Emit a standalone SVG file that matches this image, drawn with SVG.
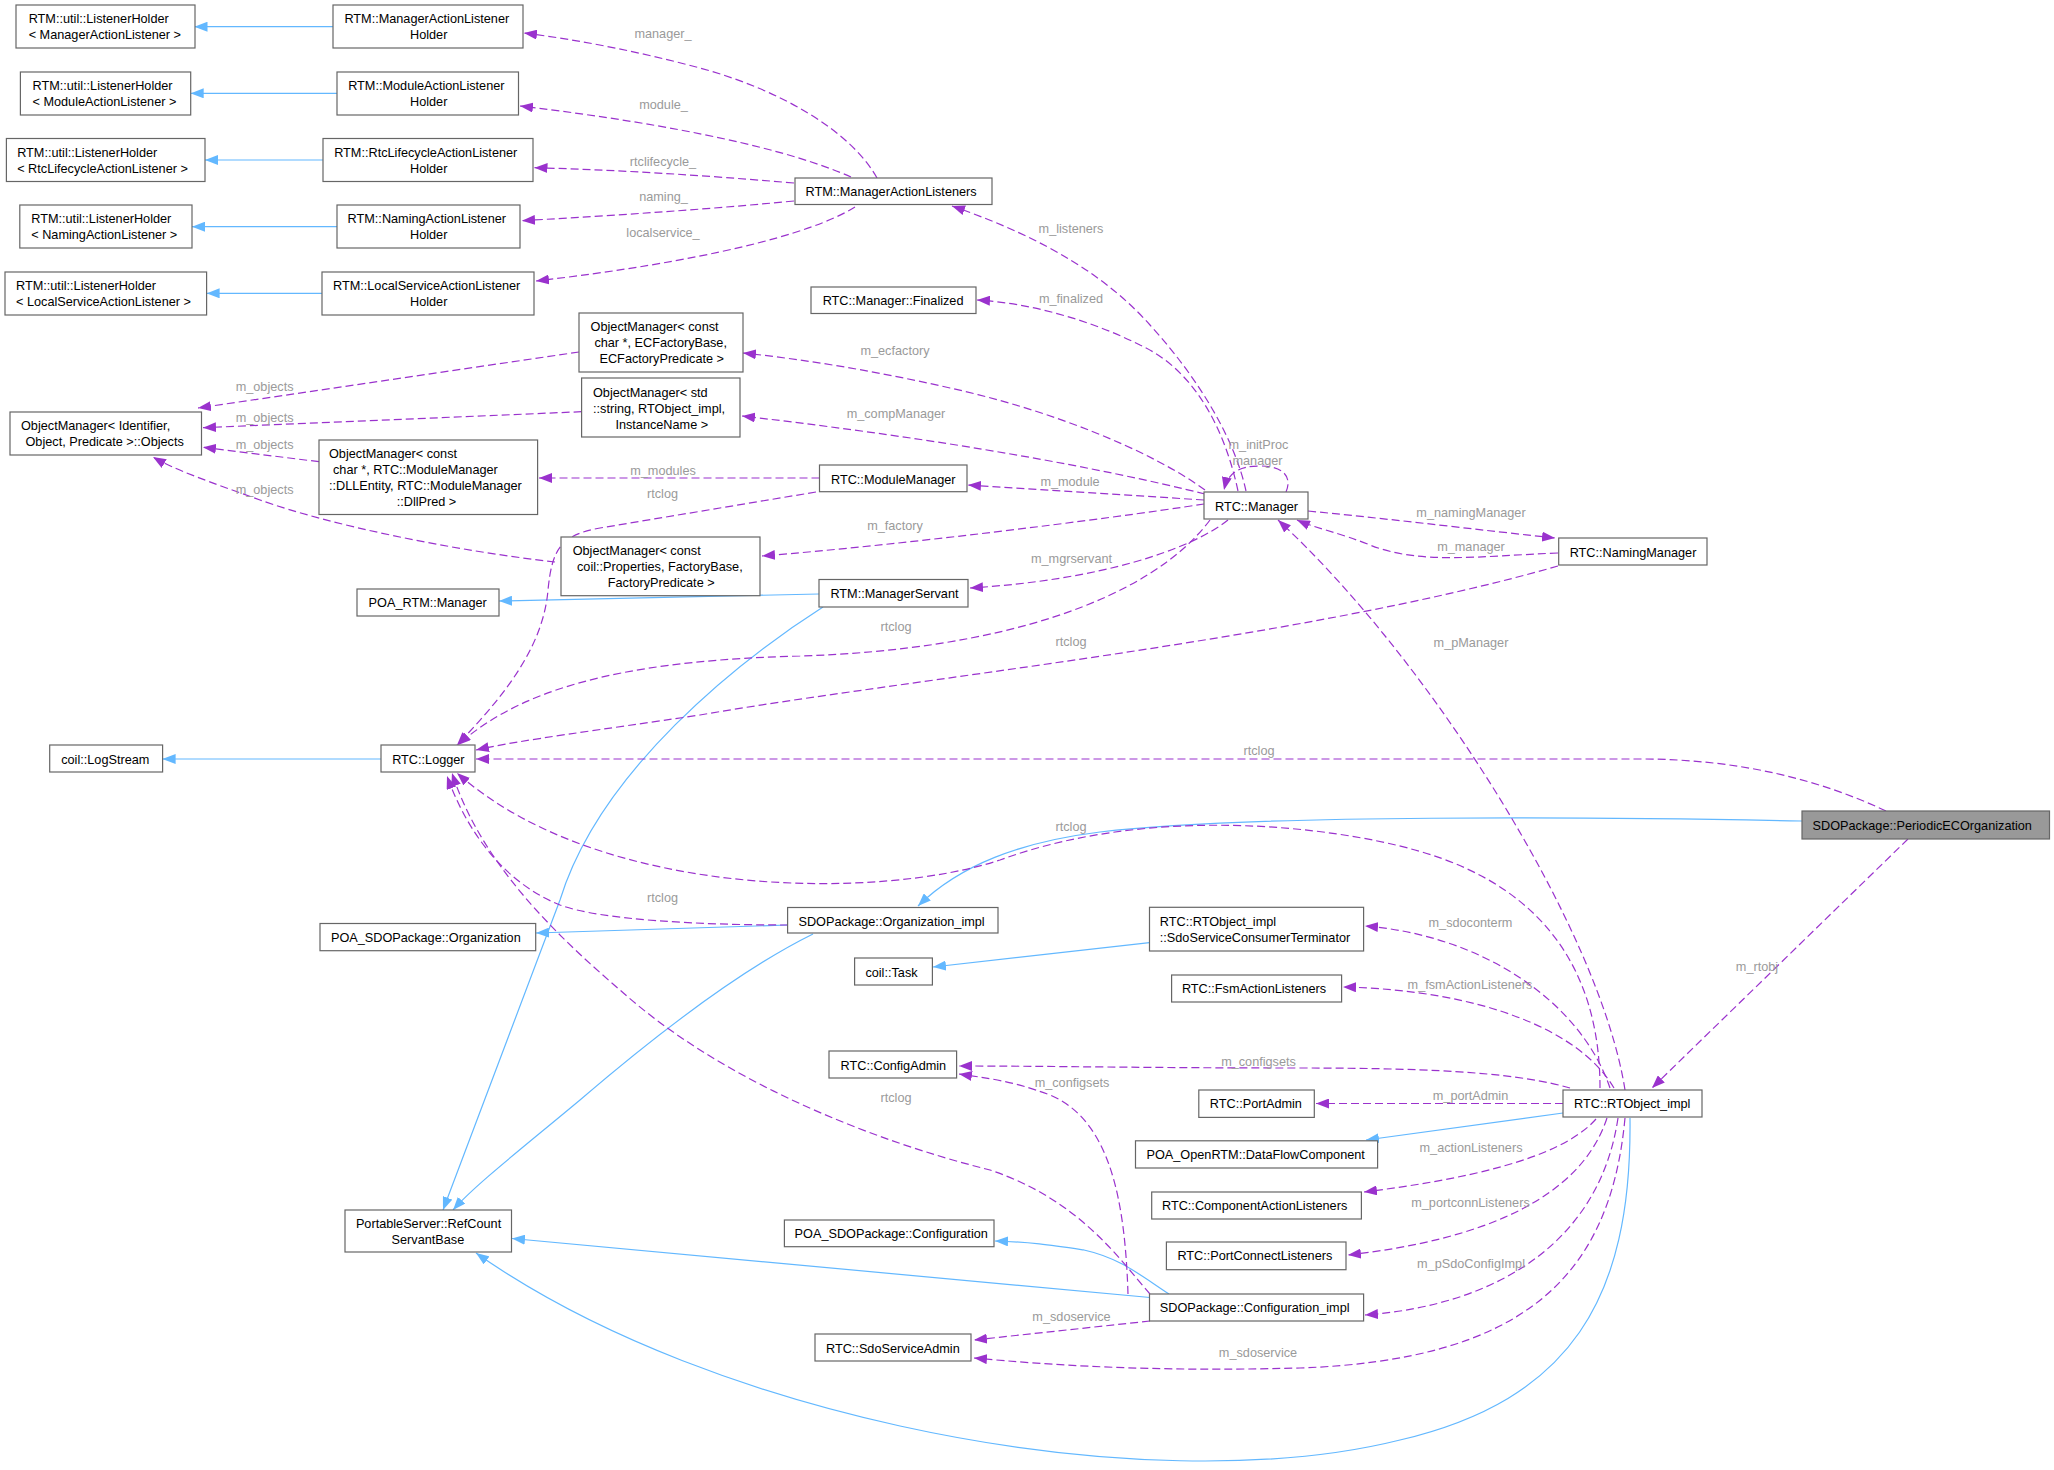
<svg xmlns="http://www.w3.org/2000/svg" width="2054" height="1470" viewBox="0 0 2054 1470">
<style>
.n rect{fill:#fff;stroke:#666;stroke-width:1.2}
.g rect{fill:#999;stroke:#666;stroke-width:1.2}
text{font-family:"Liberation Sans",Arial,Helvetica,sans-serif;font-size:12.7px}
.n text,.g text{fill:#000}
.lb text{fill:#9A9A9A;text-anchor:middle}
.u{fill:none;stroke:#9A32CD;stroke-width:1.2;stroke-dasharray:8,4;marker-end:url(#ap)}
.i{fill:none;stroke:#63B8FF;stroke-width:1.2;marker-end:url(#ab)}
</style>
<defs>
<marker id="ap" viewBox="0 0 13 10" refX="13" refY="5" markerWidth="13" markerHeight="10" markerUnits="userSpaceOnUse" orient="auto"><path d="M0,0 L13,5 L0,10 z" fill="#9A32CD"/></marker>
<marker id="ab" viewBox="0 0 13 10" refX="13" refY="5" markerWidth="13" markerHeight="10" markerUnits="userSpaceOnUse" orient="auto"><path d="M0,0 L13,5 L0,10 z" fill="#63B8FF"/></marker>
</defs>
<rect width="2054" height="1470" fill="#fff"/>
<g id="edges">
<path class="i" d="M333,26.7 L194.5,26.7"/>
<path class="i" d="M337,93.3 L190.7,93.3"/>
<path class="i" d="M323,160 L205,160"/>
<path class="i" d="M337,226.7 L192,226.7"/>
<path class="i" d="M322,293.3 L206.6,293.3"/>
<path class="i" d="M381,759 L162.6,759"/>
<path class="i" d="M819,594 L499,601"/>
<path class="i" d="M823,607 C740,660 600,770 560,900 L443,1210"/>
<path class="i" d="M1802,821 C1600,817 1250,814 1100,832 C1020,842 960,865 918,906"/>
<path class="i" d="M788,925 L536,933"/>
<path class="i" d="M813,934 C740,970 650,1040 580,1100 C520,1150 475,1185 453,1210"/>
<path class="i" d="M1149.5,942.7 L933,967"/>
<path class="i" d="M1563,1113 L1366,1140"/>
<path class="i" d="M1169,1294 C1140,1275 1120,1258 1084,1250 C1050,1245 1030,1242 995,1241"/>
<path class="i" d="M1150,1297.5 L512,1238.5"/>
<path class="i" d="M1630,1118 C1632,1300 1570,1400 1400,1440 C1280,1470 1100,1470 900,1426 C760,1395 600,1340 476,1253"/>
<path class="u" d="M877,178 C850,130 780,90 700,68 C640,52 580,40 524,33"/>
<path class="u" d="M851,177 C790,150 680,125 520,106"/>
<path class="u" d="M794,183 C700,175 620,170 534.5,167.7"/>
<path class="u" d="M794,201 C700,210 620,215 522,220.7"/>
<path class="u" d="M855,207 C810,235 700,262 536,281"/>
<path class="u" d="M1246,491 C1235,440 1200,380 1150,325 C1110,280 1050,240 952,206"/>
<path class="u" d="M1238,491 C1225,430 1195,370 1140,345 C1090,320 1030,303 977,300"/>
<path class="u" d="M1286,492 C1292,478 1285,466 1260,466 C1240,466 1228,472 1224,490"/>
<path class="u" d="M1205,490 C1150,450 1050,410 950,388 C880,372 810,360 743,353"/>
<path class="u" d="M1205,494 C1100,468 950,440 742,416"/>
<path class="u" d="M1204,500 L968,485"/>
<path class="u" d="M819.5,478 L539,478"/>
<path class="u" d="M816,492 L600,528 C560,535 552,550 548,590 C543,650 500,700 457,745"/>
<path class="u" d="M1204,504 C1100,520 900,545 762,556"/>
<path class="u" d="M1228,520 C1190,550 1100,580 970,588"/>
<path class="u" d="M1210,520 C1150,600 1000,650 800,656 C650,660 530,680 458,745"/>
<path class="u" d="M1558,566 C1300,640 900,680 700,715 C600,730 520,740 476,750"/>
<path class="u" d="M1886,811 C1820,780 1740,759 1640,759 L476,759"/>
<path class="u" d="M1625,1090 C1600,930 1430,660 1278,520"/>
<path class="u" d="M1558,553 C1480,556 1420,565 1370,545 C1340,533 1315,528 1297,520"/>
<path class="u" d="M1308,511 C1400,520 1480,530 1555,538"/>
<path class="u" d="M1908,839 L1652,1088"/>
<path class="u" d="M1610,1088 C1580,1000 1480,935 1365,926"/>
<path class="u" d="M1614,1088 C1580,1030 1480,990 1343,987"/>
<path class="u" d="M1570,1088 C1520,1074 1450,1068 1300,1068 C1150,1068 1050,1066 959,1066"/>
<path class="u" d="M1128,1294 C1125,1200 1110,1120 1050,1095 C1010,1080 985,1078 959,1074"/>
<path class="u" d="M1563,1103.5 L1316,1103.5"/>
<path class="u" d="M1596,1119 C1560,1160 1460,1180 1364,1192"/>
<path class="u" d="M1607,1118 C1580,1200 1480,1240 1348,1255"/>
<path class="u" d="M1618,1118 C1600,1240 1500,1305 1365,1315"/>
<path class="u" d="M1625,1118 C1610,1280 1520,1360 1300,1368 C1150,1372 1050,1365 974,1358"/>
<path class="u" d="M1150,1321 L974,1340"/>
<path class="u" d="M1600,1088 C1600,990 1560,890 1415,850 C1330,826 1150,805 1000,860 C880,900 600,900 457,773"/>
<path class="u" d="M788,925 C700,925 600,920 560,905 C510,885 470,840 447,776"/>
<path class="u" d="M1150,1294 C1120,1260 1080,1200 990,1170 C870,1140 720,1080 620,990 C550,930 480,860 452,773"/>
<path class="u" d="M579,352 L198,408"/>
<path class="u" d="M581.6,411.7 L203,427.7"/>
<path class="u" d="M319,461.7 L203,447.3"/>
<path class="u" d="M555,562 C450,550 330,525 260,500 C210,482 175,470 153,457"/>
</g>
<g id="labels" class="lb">
<text x="663" y="37.5">manager_</text>
<text x="663.5" y="109">module_</text>
<text x="663" y="166">rtclifecycle_</text>
<text x="663.5" y="201">naming_</text>
<text x="663" y="237">localservice_</text>
<text x="1071" y="233">m_listeners</text>
<text x="1071" y="303">m_finalized</text>
<text x="895" y="355">m_ecfactory</text>
<text x="896" y="418">m_compManager</text>
<text x="264.6" y="391">m_objects</text>
<text x="264.6" y="422">m_objects</text>
<text x="264.6" y="449">m_objects</text>
<text x="264.6" y="494">m_objects</text>
<text x="663" y="475">m_modules</text>
<text x="662.5" y="498">rtclog</text>
<text x="1070" y="486">m_module</text>
<text x="1258.5" y="449">m_initProc</text>
<text x="1257.5" y="465">manager</text>
<text x="895" y="530">m_factory</text>
<text x="1071.5" y="563">m_mgrservant</text>
<text x="1471" y="517">m_namingManager</text>
<text x="1471" y="551">m_manager</text>
<text x="896" y="631">rtclog</text>
<text x="1071" y="646">rtclog</text>
<text x="1471" y="647">m_pManager</text>
<text x="1259" y="755">rtclog</text>
<text x="1071" y="831">rtclog</text>
<text x="662.5" y="902">rtclog</text>
<text x="1470.5" y="927">m_sdoconterm</text>
<text x="1757" y="970.5">m_rtobj</text>
<text x="1470" y="989">m_fsmActionListeners</text>
<text x="1258.5" y="1065.5">m_configsets</text>
<text x="1072" y="1087">m_configsets</text>
<text x="1470.5" y="1100">m_portAdmin</text>
<text x="896" y="1102">rtclog</text>
<text x="1471" y="1152">m_actionListeners</text>
<text x="1470.5" y="1207">m_portconnListeners</text>
<text x="1471" y="1268">m_pSdoConfigImpl</text>
<text x="1071.5" y="1321">m_sdoservice</text>
<text x="1258" y="1357">m_sdoservice</text>
</g>
<g id="n_lh_mgr" class="n"><rect x="16" y="5" width="179" height="43"/><text x="28.7" y="22.8">RTM::util::ListenerHolder</text><text x="28.7" y="38.8">&lt; ManagerActionListener &gt;</text></g>
<g id="n_malh" class="n"><rect x="333" y="5" width="190" height="43"/><text x="344.4" y="22.8">RTM::ManagerActionListener</text><text x="410" y="38.8">Holder</text></g>
<g id="n_lh_mod" class="n"><rect x="20.4" y="72" width="170.3" height="43"/><text x="32.5" y="89.8">RTM::util::ListenerHolder</text><text x="32.5" y="105.8">&lt; ModuleActionListener &gt;</text></g>
<g id="n_moalh" class="n"><rect x="337" y="72" width="181.5" height="43"/><text x="348.2" y="89.8">RTM::ModuleActionListener</text><text x="410" y="105.8">Holder</text></g>
<g id="n_lh_rtc" class="n"><rect x="6.4" y="138.5" width="198.6" height="43"/><text x="17.2" y="157.2">RTM::util::ListenerHolder</text><text x="17.2" y="173.2">&lt; RtcLifecycleActionListener &gt;</text></g>
<g id="n_rtclh" class="n"><rect x="323" y="138.5" width="210" height="43"/><text x="334.2" y="157.2">RTM::RtcLifecycleActionListener</text><text x="410" y="173.2">Holder</text></g>
<g id="n_lh_nam" class="n"><rect x="19.8" y="205" width="172.2" height="43"/><text x="31.25" y="223">RTM::util::ListenerHolder</text><text x="31.25" y="239">&lt; NamingActionListener &gt;</text></g>
<g id="n_namlh" class="n"><rect x="337" y="205" width="183" height="43"/><text x="347.6" y="223">RTM::NamingActionListener</text><text x="410" y="239">Holder</text></g>
<g id="n_lh_loc" class="n"><rect x="5" y="272" width="201.6" height="43"/><text x="16" y="290">RTM::util::ListenerHolder</text><text x="16" y="306">&lt; LocalServiceActionListener &gt;</text></g>
<g id="n_loclh" class="n"><rect x="322" y="272" width="212" height="43"/><text x="333" y="290">RTM::LocalServiceActionListener</text><text x="410" y="306">Holder</text></g>
<g id="n_mal" class="n"><rect x="795" y="178" width="197" height="26.5"/><text x="805.5" y="195.5">RTM::ManagerActionListeners</text></g>
<g id="n_final" class="n"><rect x="811" y="287" width="165" height="26.5"/><text x="822.7" y="305">RTC::Manager::Finalized</text></g>
<g id="n_om_ec" class="n"><rect x="579" y="313" width="164" height="59"/><text x="590.6" y="331">ObjectManager&lt; const</text><text x="594.4" y="347">char *, ECFactoryBase,</text><text x="599.5" y="363">ECFactoryPredicate &gt;</text></g>
<g id="n_om_str" class="n"><rect x="581.6" y="378" width="158.4" height="59"/><text x="593" y="397">ObjectManager&lt; std</text><text x="593" y="413">::string, RTObject_impl,</text><text x="615.4" y="429">InstanceName &gt;</text></g>
<g id="n_objects" class="n"><rect x="10" y="412" width="191.5" height="43"/><text x="21" y="430">ObjectManager&lt; Identifier,</text><text x="25.5" y="446">Object, Predicate &gt;::Objects</text></g>
<g id="n_om_dll" class="n"><rect x="319" y="440" width="218.6" height="74.5"/><text x="329" y="458">ObjectManager&lt; const</text><text x="333" y="474">char *, RTC::ModuleManager</text><text x="329" y="490">::DLLEntity, RTC::ModuleManager</text><text x="396.7" y="506">::DllPred &gt;</text></g>
<g id="n_modmgr" class="n"><rect x="819.5" y="465" width="147.5" height="26.7"/><text x="831" y="483.5">RTC::ModuleManager</text></g>
<g id="n_om_prop" class="n"><rect x="561" y="537" width="199" height="58.7"/><text x="572.7" y="555">ObjectManager&lt; const</text><text x="577" y="571">coil::Properties, FactoryBase,</text><text x="607.8" y="587">FactoryPredicate &gt;</text></g>
<g id="n_mgrservant" class="n"><rect x="819" y="579.5" width="149" height="27.5"/><text x="830.4" y="598">RTM::ManagerServant</text></g>
<g id="n_poa_rtm" class="n"><rect x="357" y="589" width="142" height="27"/><text x="368.6" y="607">POA_RTM::Manager</text></g>
<g id="n_manager" class="n"><rect x="1204" y="492" width="104" height="27"/><text x="1215" y="510.5">RTC::Manager</text></g>
<g id="n_namingmgr" class="n"><rect x="1558.7" y="538" width="148.3" height="27"/><text x="1569.7" y="557">RTC::NamingManager</text></g>
<g id="n_logstream" class="n"><rect x="49.7" y="745" width="112.9" height="27"/><text x="61.2" y="763.5">coil::LogStream</text></g>
<g id="n_logger" class="n"><rect x="381" y="745" width="94" height="27"/><text x="392.2" y="763.5">RTC::Logger</text></g>
<g id="n_periodic" class="g"><rect x="1802" y="811" width="247.5" height="28"/><text x="1812.6" y="830">SDOPackage::PeriodicECOrganization</text></g>
<g id="n_orgimpl" class="n"><rect x="787.6" y="907.5" width="210.4" height="25.5"/><text x="798.5" y="925.5">SDOPackage::Organization_impl</text></g>
<g id="n_poa_org" class="n"><rect x="320" y="923.5" width="215.7" height="27.2"/><text x="331" y="941.8">POA_SDOPackage::Organization</text></g>
<g id="n_task" class="n"><rect x="854.6" y="958" width="77.8" height="27"/><text x="865.4" y="977">coil::Task</text></g>
<g id="n_sdoterm" class="n"><rect x="1149.5" y="907.3" width="214.1" height="43.7"/><text x="1159.8" y="926.4">RTC::RTObject_impl</text><text x="1159.8" y="942">::SdoServiceConsumerTerminator</text></g>
<g id="n_fsm" class="n"><rect x="1171.6" y="975" width="170" height="27"/><text x="1181.9" y="993">RTC::FsmActionListeners</text></g>
<g id="n_configadmin" class="n"><rect x="829" y="1051" width="127.6" height="27"/><text x="840.6" y="1069.5">RTC::ConfigAdmin</text></g>
<g id="n_portadmin" class="n"><rect x="1198.8" y="1090" width="115.5" height="27.4"/><text x="1209.8" y="1108">RTC::PortAdmin</text></g>
<g id="n_rtobj" class="n"><rect x="1563" y="1090" width="139" height="27"/><text x="1574.1" y="1108">RTC::RTObject_impl</text></g>
<g id="n_dfc" class="n"><rect x="1135.5" y="1140.8" width="242.1" height="27.2"/><text x="1146.5" y="1159">POA_OpenRTM::DataFlowComponent</text></g>
<g id="n_cal" class="n"><rect x="1151.7" y="1192" width="209.7" height="27"/><text x="1162" y="1210">RTC::ComponentActionListeners</text></g>
<g id="n_pcl" class="n"><rect x="1166.4" y="1242" width="179.6" height="27.7"/><text x="1177.4" y="1260">RTC::PortConnectListeners</text></g>
<g id="n_psrc" class="n"><rect x="345" y="1210" width="166.5" height="42"/><text x="355.9" y="1227.5">PortableServer::RefCount</text><text x="391.6" y="1244">ServantBase</text></g>
<g id="n_poa_conf" class="n"><rect x="784.4" y="1220" width="209.6" height="26.7"/><text x="794.6" y="1238">POA_SDOPackage::Configuration</text></g>
<g id="n_confimpl" class="n"><rect x="1149.5" y="1294" width="214.1" height="27"/><text x="1159.8" y="1312">SDOPackage::Configuration_impl</text></g>
<g id="n_sdosvc" class="n"><rect x="815" y="1334" width="156" height="27"/><text x="826" y="1352.5">RTC::SdoServiceAdmin</text></g>
</svg>
